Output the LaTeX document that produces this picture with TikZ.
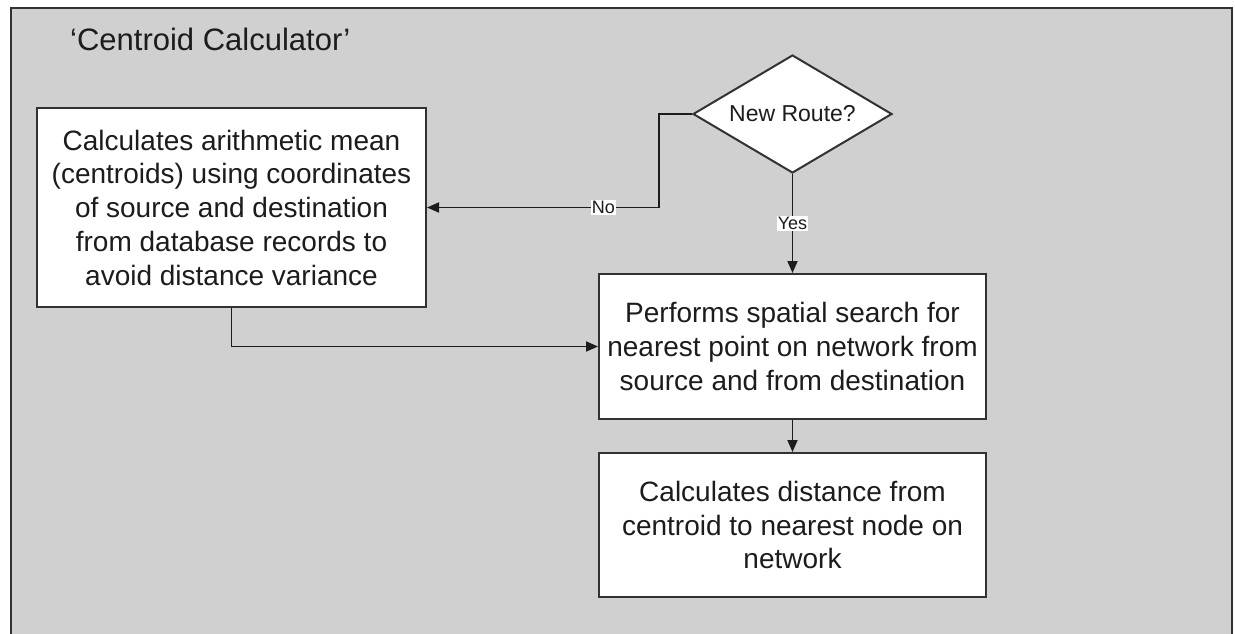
\documentclass[tikz,border=0pt]{standalone}
\usepackage{fontspec}
\setmainfont{Liberation Sans}
\usetikzlibrary{shapes.geometric,arrows.meta}

\definecolor{panelgray}{RGB}{208,208,208}
\definecolor{edgegray}{RGB}{50,50,50}
\definecolor{inkgray}{RGB}{28,28,28}

\tikzset{
  procbox/.style={draw=edgegray, line width=2pt, fill=white, text=inkgray,
    align=center, inner sep=0pt,
    font=\fontsize{28}{33.75}\selectfont},
  decision/.style={draw=edgegray, line width=2pt, fill=white, text=inkgray,
    diamond, aspect=1.7, inner sep=0pt,
    font=\fontsize{23}{27}\selectfont},
  flow/.style={draw=inkgray, line width=1.8pt,
    -{Triangle[length=12pt,width=10pt]}},
  lbl/.style={fill=white, text=inkgray, inner sep=1pt,
    font=\fontsize{18}{20}\selectfont},
}

\begin{document}
\begin{tikzpicture}[x=1pt,y=-1pt]
  \useasboundingbox (0,0) rectangle (1235,633);
  \clip (0,0) rectangle (1235,633);

  % panel holding the whole process
  \draw[edgegray, line width=2.8pt, fill=panelgray] (11,8) rectangle (1232,670);
  \node[anchor=base west, inner sep=0pt, text=inkgray,
        font=\fontsize{31}{36}\selectfont] (title) at (70,50)
        {‘Centroid Calculator’};

  % steps
  \node[procbox, minimum width=389pt, minimum height=199pt] (calc) at (231.5,207.5)
    {Calculates arithmetic mean\\(centroids) using coordinates\\of source and destination\\from database records to\\avoid distance variance};
  \node[decision, minimum width=199pt, minimum height=118pt] (decide) at (792.5,114)
    {New Route?};
  \node[procbox, minimum width=387pt, minimum height=145pt] (search) at (792.5,346.5)
    {Performs spatial search for\\nearest point on network from\\source and from destination};
  \node[procbox, minimum width=387pt, minimum height=144pt] (dist) at (792.5,525)
    {Calculates distance from\\centroid to nearest node on\\network};

  % connectors
  \draw[flow] (decide.west) -- ++(-33,0) coordinate (nobend)
    |- node[lbl, pos=0.62] {No} (calc.east);
  \draw[flow] (decide.south) -- node[lbl, pos=0.5] {Yes} (search.north);
  \draw[flow] (calc.south) |- (search.west);
  \draw[flow] (search.south) -- (dist.north);
\end{tikzpicture}
\end{document}
